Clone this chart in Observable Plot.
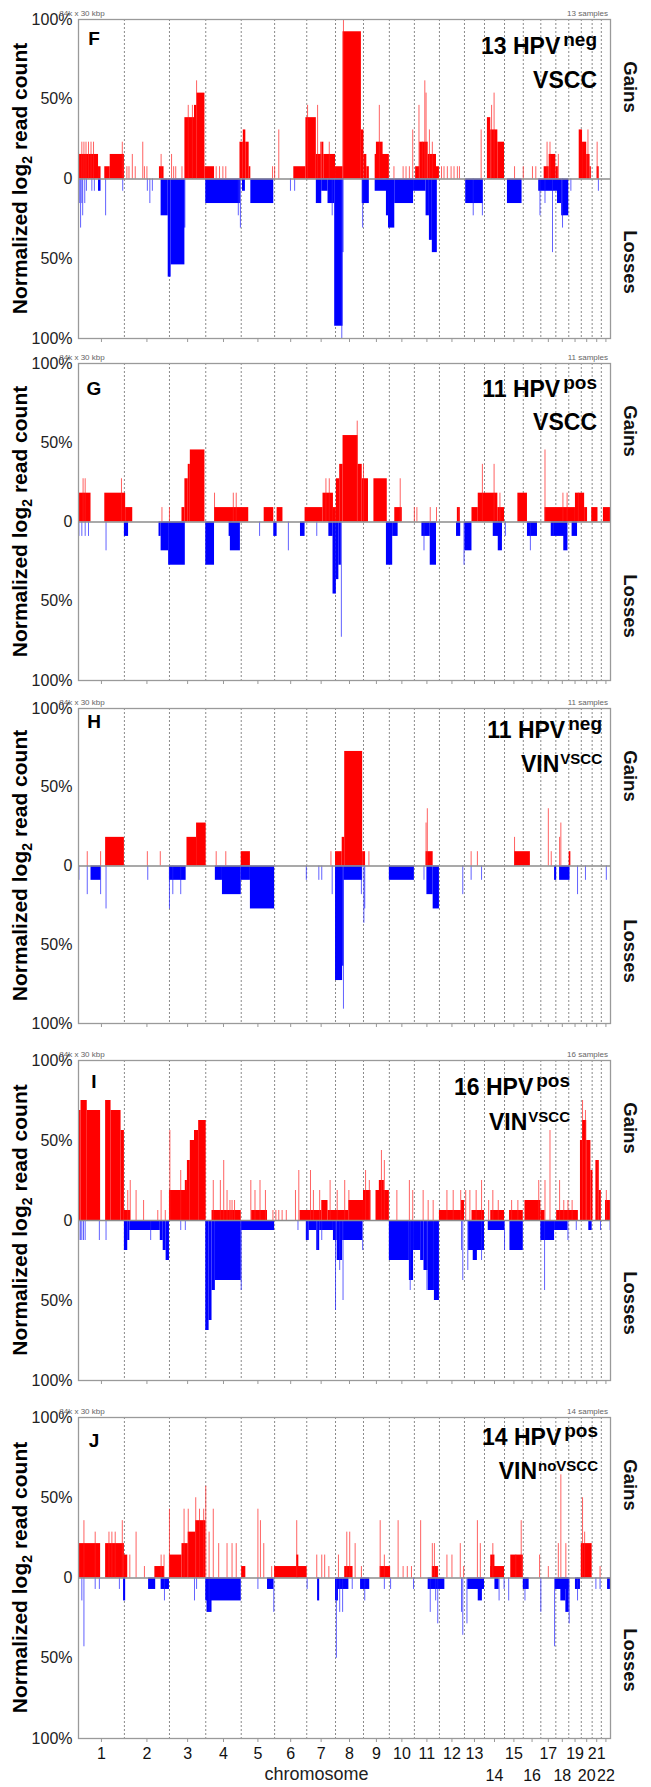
<!DOCTYPE html>
<html><head><meta charset="utf-8">
<script src="https://cdn.jsdelivr.net/npm/d3@7"></script>
<script src="https://cdn.jsdelivr.net/npm/@observablehq/plot@0.6"></script>
<style>
body{margin:0;background:#fff;}
#wrap{position:relative;width:651px;height:1787px;overflow:hidden;background:#fff;}
#wrap svg{position:absolute;left:0;}
</style></head><body><div id="wrap"></div>
<script>
// ---------- chromosome layout (genome positions in ~Mb of mappable sequence) ----------
const chromosomes = ["1","2","3","4","5","6","7","8","9","10","11","12","13","14","15","16","17","18","19","20","21","22"];
const chromLengths = [220,216,174,170,160,154,138,134,124,120,120,120,96,96,90,84,72,62,60,52,44,44];
const labelsRow1 = ["1","2","3","4","5","6","7","8","9","10","11","12","13","15","17","19","21"];
const labelsRow2 = ["14","16","18","20","22"];
const yTicks = [-100,-50,0,50,100];

// ---------- panel F : 13 HPVneg VSCC (counts of samples) ----------
const F_gain = [[4,96,2],[96,108,1],[126,152,1],[152,220,2],[388,410,1],
[510,556,5],[556,568,6],[568,606,7],[606,652,1],[774,790,3],[790,802,4],[802,818,3],[818,826,1],
[1032,1090,1],[1090,1140,5],[1140,1166,2],[1166,1176,3],[1176,1232,2],[1232,1268,1],
[1268,1356,12],[1356,1368,4],[1368,1382,2],[1382,1394,1],[1422,1490,2],[1428,1460,3],
[1616,1636,1],[1636,1676,3],[1676,1716,2],[1716,1730,1],
[1960,1976,5],[1976,2010,4],[2010,2042,3],[2232,2256,1],[2256,2288,2],[2288,2300,1],
[2400,2416,4],[2416,2436,3],[2436,2452,2],[2452,2458,1],[2486,2496,1]];
const F_gainSpike = [[16,3],[26,3],[36,3],[48,3],[60,3],[72,3],[210,3],[232,1],[242,1],[258,2],[272,1],[308,3],[316,1],[328,1],
[396,2],[446,2],[456,1],[466,1],[496,1],[526,6],[546,6],[566,8],[660,1],[676,1],[692,1],[706,1],[930,1],[940,1],[960,4],
[1098,6],[1146,6],[1160,3],[1202,3],[1270,13],[1442,6],[1512,1],[1556,1],[1570,1],[1586,1],[1602,4],[1632,6],[1648,3],
[1660,8],[1666,7],[1682,4],[1696,3],[1740,1],[1752,1],[1768,1],[1786,1],[1800,1],[1816,1],[1826,1],[1930,4],[1980,6],
[1992,7],[2090,1],[2132,1],[2176,1],[2192,1],[2246,3],[2260,3],[2300,2],[2442,4],[2486,3]];
const F_loss = [[96,108,1],[396,430,3],[430,444,8],[444,510,7],[510,514,4],[610,776,2],[786,800,1],[826,936,2],
[1140,1166,2],[1166,1196,1],[1196,1228,2],[1228,1268,12],[1268,1272,6],[1360,1394,2],
[1422,1490,1],[1476,1486,3],[1486,1516,4],[1516,1606,2],[1606,1666,1],[1666,1682,3],[1682,1696,5],[1696,1720,6],
[1856,1940,2],[2056,2126,2],[2206,2296,1],[2296,2316,2],[2316,2350,3]];
const F_lossSpike = [[4,2],[10,4],[16,2],[20,3],[30,2],[38,1],[64,1],[76,1],[130,3],[212,1],[330,1],[342,2],[354,1],
[766,3],[776,4],[1016,1],[1036,1],[1216,3],[1262,13],[1362,4],[1892,3],[1936,3],[2212,3],[2236,2],[2272,6],[2320,4],[2360,1],[2492,1]];

// ---------- panel G : 11 HPVpos VSCC ----------
const G_gain = [[0,60,2],[126,226,2],[226,260,1],[496,510,1],[510,526,3],[526,536,4],[536,606,5],[652,816,1],
[890,936,1],[952,980,1],[1086,1172,1],[1172,1222,2],[1222,1236,1],[1236,1252,3],[1252,1268,4],[1268,1340,6],
[1340,1360,4],[1360,1390,3],[1416,1480,3],[1516,1552,1],[1816,1830,1],[1886,1916,1],[1916,2010,2],[2010,2042,1],
[2106,2152,2],[2236,2382,1],[2382,2426,2],[2426,2440,1],[2460,2490,1],[2516,2550,1]];
const G_gainSpike = [[22,3],[32,3],[206,3],[400,1],[436,1],[652,2],[742,2],[756,2],[1186,3],[1202,3],[1336,7],[1366,4],
[1542,3],[1610,1],[1622,1],[1686,1],[1716,1],[1822,1],[1936,4],[1992,4],[2020,2],[2236,5],[2322,2],[2342,2],[2396,2]];
const G_loss = [[220,240,1],[386,396,1],[396,432,2],[432,512,3],[610,652,3],[722,736,1],[728,776,2],[936,952,1],
[1064,1086,1],[1200,1220,1],[1220,1236,5],[1236,1248,4],[1248,1260,3],[1476,1506,3],[1506,1532,1],
[1646,1686,1],[1686,1716,3],[1812,1832,1],[1852,1886,2],[1988,2032,1],[2012,2032,2],[2152,2200,1],
[2266,2342,1],[2326,2346,2],[2366,2392,1]];
const G_lossSpike = [[2,1],[16,1],[32,1],[48,1],[132,2],[868,1],[1006,2],[1142,1],[1260,8],[1656,2],[1848,3],[2046,1],[2166,2],[2276,1]];

// ---------- panel H : 11 HPVneg VIN(VSCC) ----------
const H_gain = [[130,220,2],[520,566,2],[566,612,3],[780,824,1],[1232,1264,1],[1264,1276,2],[1276,1362,8],
[1362,1376,1],[1666,1700,1],[2090,2166,1],[2352,2360,1]];
const H_gainSpike = [[42,1],[106,1],[330,1],[392,1],[660,1],[706,1],[1210,1],[1392,1],[1666,3],[1672,4],[1882,1],
[1912,1],[2090,2],[2252,4],[2266,1],[2306,2],[2312,3]];
const H_loss = [[60,108,1],[436,516,1],[656,690,1],[690,780,2],[780,824,1],[824,940,3],[1232,1266,8],[1266,1272,7],
[1272,1362,1],[1490,1610,1],[1670,1700,2],[1700,1730,3],[2282,2292,1],[2306,2356,1]];
const H_lossSpike = [[2,1],[42,2],[106,2],[132,3],[332,1],[436,3],[452,2],[490,2],[1092,1],[1152,1],[1166,1],[1216,2],
[1270,10],[1356,2],[1368,4],[1372,3],[1656,1],[1842,2],[1882,1],[1932,1],[2392,2],[2430,1],[2530,1]];

// ---------- panel I : 16 HPVpos VIN(VSCC) ----------
const I_gain = [[0,12,11],[12,42,12],[42,106,11],[130,156,12],[156,204,11],[204,220,9],[220,250,1],
[436,522,3],[512,522,4],[522,536,6],[536,556,8],[556,576,9],[576,612,10],[640,780,1],[830,906,1],
[1062,1166,1],[1166,1196,2],[1196,1296,1],[1296,1366,2],[1366,1402,3],[1426,1490,3],[1442,1466,4],
[1730,1850,1],[1836,1850,2],[1886,1946,1],[1976,2042,1],[2066,2132,1],[2140,2216,2],[2216,2236,1],[2292,2396,1],
[2406,2416,8],[2416,2436,10],[2436,2456,8],[2456,2466,5],[2480,2496,6],[2496,2506,3],[2526,2550,2]];
const I_gainSpike = [[236,3],[248,4],[276,3],[312,2],[380,1],[396,3],[416,1],[438,9],[490,5],[646,4],[680,4],[696,6],
[712,3],[726,2],[736,2],[748,2],[826,4],[846,3],[870,4],[896,3],[932,1],[946,1],[960,1],[976,1],[996,1],[1040,3],
[1056,5],[1112,5],[1126,3],[1156,3],[1206,4],[1240,3],[1276,4],[1296,3],[1376,5],[1394,4],[1452,7],[1466,6],
[1526,3],[1586,4],[1602,3],[1652,3],[1676,2],[1700,2],[1766,3],[1796,3],[1832,3],[1856,3],[1876,3],[1906,3],
[1932,4],[1966,2],[1986,3],[2012,2],[2076,2],[2106,2],[2206,4],[2236,4],[2260,9],[2306,4],[2326,2],[2346,2],
[2366,2],[2416,12],[2430,11],[2490,6],[2530,3]];
const I_loss = [[220,236,3],[236,246,2],[246,392,1],[392,406,2],[406,420,3],[420,436,4],[610,626,11],[626,640,10],
[640,656,7],[656,780,6],[780,940,1],[1092,1106,2],[1106,1142,1],[1142,1156,3],[1156,1222,1],[1222,1240,2],
[1240,1266,4],[1266,1362,2],[1490,1586,4],[1586,1606,6],[1606,1640,3],[1640,1656,4],[1656,1676,5],[1676,1706,7],
[1706,1730,8],[1870,1946,3],[1892,1912,4],[1964,2042,1],[2068,2132,3],[2216,2282,2],[2282,2346,1],[2446,2462,1]];
const I_lossSpike = [[2,2],[10,2],[16,2],[24,2],[32,2],[100,2],[132,2],[346,2],[490,1],[512,1],[780,7],[1052,1],
[1096,2],[1146,3],[1166,2],[1232,9],[1252,5],[1268,8],[1362,3],[1590,7],[1670,7],[1836,3],[1842,6],[1866,5],
[1932,4],[2042,3],[2234,7],[2346,2],[2386,1],[2502,1],[2548,1]];

// ---------- panel J : 14 HPVpos VIN(noVSCC) ----------
const J_gain = [[0,106,3],[130,220,3],[220,236,2],[366,412,1],[436,496,2],[496,526,3],[526,562,4],[562,610,5],
[782,802,1],[940,1096,1],[1046,1056,2],[1276,1316,1],[1446,1496,1],[1696,1726,1],[1976,2042,1],[1976,1996,2],
[2072,2132,2],[2410,2462,3]];
const J_gainSpike = [[26,5],[80,4],[146,4],[160,4],[176,4],[210,5],[246,2],[276,4],[316,1],[396,2],[410,2],[436,6],
[506,6],[526,6],[562,7],[580,6],[600,6],[610,8],[626,4],[646,6],[672,3],[712,3],[736,3],[756,3],[860,6],[872,5],
[888,3],[926,1],[1046,5],[1142,2],[1166,2],[1180,2],[1200,1],[1246,2],[1286,4],[1300,4],[1326,3],[1356,1],
[1446,5],[1466,2],[1532,5],[1556,1],[1576,1],[1596,1],[1640,5],[1696,3],[1706,3],[1720,1],[1766,2],[1790,2],
[1830,3],[1846,1],[1912,5],[1926,3],[1986,3],[2096,2],[2122,5],[2210,2],[2252,1],[2300,3],[2312,9],[2336,3],
[2416,7],[2426,4],[2500,1]];
const J_loss = [[216,226,2],[336,370,1],[396,436,1],[610,780,2],[616,640,3],[906,936,1],[1146,1156,2],
[1232,1296,1],[1232,1246,2],[1352,1396,1],[1676,1756,1],[1866,1946,1],[1916,1936,2],[1996,2016,1],
[2132,2160,1],[2286,2352,1],[2312,2336,2],[2336,2352,3],[2382,2406,1],[2536,2550,1]];
const J_lossSpike = [[16,2],[26,6],[80,1],[100,1],[196,1],[412,2],[556,2],[566,1],[626,3],[860,1],[936,3],[1096,1],
[1236,7],[1252,3],[1266,3],[1312,1],[1372,2],[1466,1],[1496,1],[1606,1],[1686,3],[1712,2],[1722,4],[1836,3],
[1842,5],[1862,4],[2016,2],[2040,1],[2062,2],[2140,2],[2216,3],[2282,6],[2352,4],[2392,2],[2480,1],[2500,1]];

const panels = [
 {id:"F", n:13, line1:"13 HPV", sup1:"neg", line2:"VSCC", sup2:"", gain:F_gain, gainSpike:F_gainSpike, loss:F_loss, lossSpike:F_lossSpike},
 {id:"G", n:11, line1:"11 HPV", sup1:"pos", line2:"VSCC", sup2:"", gain:G_gain, gainSpike:G_gainSpike, loss:G_loss, lossSpike:G_lossSpike},
 {id:"H", n:11, line1:"11 HPV", sup1:"neg", line2:"VIN", sup2:"VSCC", gain:H_gain, gainSpike:H_gainSpike, loss:H_loss, lossSpike:H_lossSpike},
 {id:"I", n:16, line1:"16 HPV", sup1:"pos", line2:"VIN", sup2:"VSCC", gain:I_gain, gainSpike:I_gainSpike, loss:I_loss, lossSpike:I_lossSpike},
 {id:"J", n:14, line1:"14 HPV", sup1:"pos", line2:"VIN", sup2:"noVSCC", gain:J_gain, gainSpike:J_gainSpike, loss:J_loss, lossSpike:J_lossSpike}
];

// ---------- page layout ----------
const layout = [
 {top:19,  h:319, letter:26, t1:35, t2:69, right:597},
 {top:363, h:317, letter:32, t1:34, t2:67, right:597},
 {top:708, h:315, letter:20, t1:30, t2:64, right:602},
 {top:1060,h:320, letter:28, t1:35, t2:70, right:570},
 {top:1417,h:321, letter:30, t1:28, t2:62, right:598}
];
const ML = 78, MR = 41;

const sans = "'Liberation Sans',Arial,sans-serif";

const starts = [], centers = new Map();
let acc = 0;
chromLengths.forEach((len, i) => { starts.push(acc); centers.set(chromosomes[i], acc + len / 2); acc += len; });
const genomeLen = acc;
const boundaries = starts.slice(1);
const centerList = chromosomes.map(c => centers.get(c));

const wrap = document.getElementById("wrap");

panels.forEach((P, i) => {
  const L = layout[i];
  const last = i === panels.length - 1;
  const mt = 20, mb = last ? 50 : 26;
  const pct = c => c / P.n * 100;
  const marks = [
    Plot.ruleX(boundaries, {stroke: "#8a8a8a", strokeDasharray: "2,2", strokeWidth: 1}),
    Plot.rect(P.gain, {x1: d => d[0], x2: d => d[1], y1: 0, y2: d => pct(d[2]), fill: "#ff0000"}),
    Plot.rect(P.loss, {x1: d => d[0], x2: d => d[1], y1: 0, y2: d => -pct(d[2]), fill: "#0000ff"}),
    Plot.ruleX(P.gainSpike, {x: d => d[0], y1: 0, y2: d => pct(d[1]), stroke: "#ff2020", strokeWidth: 1, strokeOpacity: 0.7}),
    Plot.ruleX(P.lossSpike, {x: d => d[0], y1: 0, y2: d => -pct(d[1]), stroke: "#2020ff", strokeWidth: 1, strokeOpacity: 0.7}),
    Plot.ruleY([0], {stroke: "#8c8c8c", strokeWidth: 1.5}),
    Plot.frame({stroke: "#9a9a9a", strokeWidth: 1.3}),
    Plot.axisY({ticks: yTicks, tickSize: 0, tickPadding: 6, fontSize: 16,
      tickFormat: d => d === 0 ? "0" : Math.abs(d) + "%"}),
    Plot.axisX({ticks: centerList, tickSize: 4, tickFormat: () => "", stroke: "#999"})
  ];
  if (last) {
    marks.push(
      Plot.text(labelsRow1, {x: d => centers.get(d), text: d => d, frameAnchor: "bottom", dy: 15, lineAnchor: "middle", fontSize: 16, fill: "#111"}),
      Plot.text(labelsRow2, {x: d => centers.get(d), text: d => d, frameAnchor: "bottom", dy: 37, lineAnchor: "middle", fontSize: 16, fill: "#111"}),
      Plot.text(["chromosome"], {frameAnchor: "bottom", dx: -28, dy: 36, lineAnchor: "middle", fontSize: 18, fill: "#222"})
    );
  }
  const svg = Plot.plot({
    width: 651, height: mt + L.h + mb,
    marginLeft: ML, marginRight: MR, marginTop: mt, marginBottom: mb,
    style: {fontFamily: sans, fontSize: "16px", color: "#222", background: "transparent", overflow: "visible"},
    x: {domain: [0, genomeLen]},
    y: {domain: [-100, 100]},
    marks
  });
  svg.style.top = (L.top - mt) + "px";
  wrap.appendChild(svg);

  const s = d3.select(svg);
  const ft = mt, fb = mt + L.h;
  s.append("text").attr("x", ML + 4).attr("y", ft - 3).attr("font-size", 8).attr("fill", "#666")
    .attr("font-family", sans).text("84k x 30 kbp");
  s.append("text").attr("x", 651 - MR - 2).attr("y", ft - 3).attr("font-size", 8).attr("fill", "#666")
    .attr("text-anchor", "end").attr("font-family", sans).text(P.n + " samples");
  s.append("text").attr("x", 94).attr("y", ft + L.letter).attr("font-size", 19).attr("font-weight", "bold")
    .attr("font-family", sans).attr("fill", "#000").text(P.id);
  const t1 = s.append("text").attr("x", L.right).attr("y", ft + L.t1).attr("text-anchor", "end")
    .attr("font-family", sans).attr("font-weight", "bold").attr("font-size", 23).attr("fill", "#000");
  t1.append("tspan").text(P.line1);
  t1.append("tspan").attr("dx", 3).attr("dy", -8).attr("font-size", 19).text(P.sup1);
  const t2 = s.append("text").attr("x", L.right).attr("y", ft + L.t2).attr("text-anchor", "end")
    .attr("font-family", sans).attr("font-weight", "bold").attr("font-size", 23).attr("fill", "#000");
  t2.append("tspan").text(P.line2);
  if (P.sup2) t2.append("tspan").attr("dx", 1).attr("dy", -8).attr("font-size", 15).text(P.sup2);
  const yl = s.append("text").attr("transform", `translate(27,${(ft + fb) / 2}) rotate(-90)`)
    .attr("text-anchor", "middle").attr("font-family", sans).attr("font-weight", "bold").attr("font-size", 21).attr("fill", "#000");
  yl.append("tspan").text("Normalized log");
  yl.append("tspan").attr("font-size", 14).attr("dy", 5).text("2");
  yl.append("tspan").attr("dy", -5).text(" read count");
  s.append("text").attr("transform", `translate(624,${ft + 68}) rotate(90)`)
    .attr("text-anchor", "middle").attr("font-family", sans).attr("font-weight", "bold").attr("font-size", 18.5).attr("fill", "#111").text("Gains");
  s.append("text").attr("transform", `translate(624,${ft + 243}) rotate(90)`)
    .attr("text-anchor", "middle").attr("font-family", sans).attr("font-weight", "bold").attr("font-size", 18.5).attr("fill", "#111").text("Losses");
});
</script>
</body></html>
